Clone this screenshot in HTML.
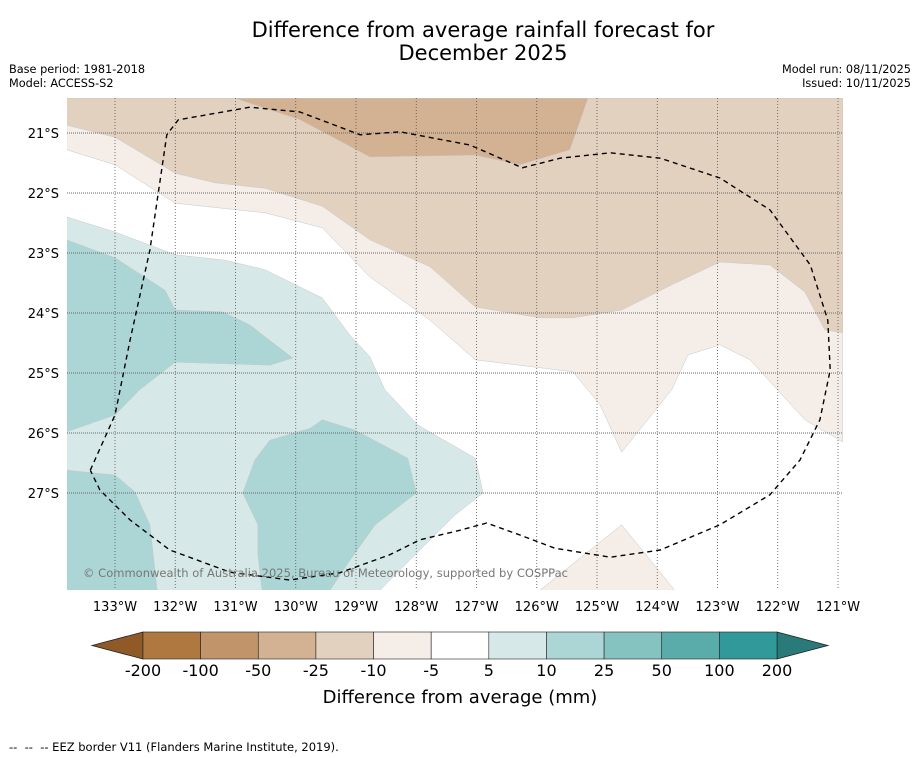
<!DOCTYPE html>
<html><head><meta charset="utf-8"><style>
html,body{margin:0;padding:0;background:#fff;}
body{width:919px;height:758px;position:relative;overflow:hidden;font-family:"DejaVu Sans","Liberation Sans",sans-serif;}
.t{position:absolute;color:#000;}
</style></head><body>
<div class="t" style="left:0;width:966px;top:19px;text-align:center;font-size:21px;line-height:23px;">Difference from average rainfall forecast for<br>December 2025</div>
<div class="t" style="left:9px;top:63px;font-size:11.3px;line-height:14px;">Base period: 1981-2018<br>Model: ACCESS-S2</div>
<div class="t" style="right:8px;top:63px;font-size:11.3px;line-height:14px;text-align:right;">Model run: 08/11/2025<br>Issued: 10/11/2025</div>
<div class="t" style="left:9px;top:740px;font-size:11.5px;white-space:pre;">--  --  -- EEZ border V11 (Flanders Marine Institute, 2019).</div>
<svg id="map" width="919" height="758" style="position:absolute;left:0;top:0"></svg>
<script>
const lonTicks=[-133,-132,-131,-130,-129,-128,-127,-126,-125,-124,-123,-122,-121];
const latTicks=[-21,-22,-23,-24,-25,-26,-27];
const cbTicks=["-200","-100","-50","-25","-10","-5","5","10","25","50","100","200"];
const cbColors=["#ae7840","#c19469","#d3b193","#e3d1c0","#f4ede8","#ffffff","#d6e9e8","#acd5d5","#85c3c1","#5aacab","#31999a"];
const brownLight=[[-133.8,-20.42],[-120.92,-20.42],[-120.92,-26.15],[-121.55,-25.78],[-122.46,-24.78],[-122.96,-24.53],[-123.49,-24.7],[-123.76,-25.28],[-124.59,-26.32],[-124.95,-25.53],[-125.4,-24.98],[-127.02,-24.78],[-127.77,-24.12],[-128.77,-23.4],[-129.56,-22.58],[-130.51,-22.33],[-132,-22.17],[-133,-21.53],[-133.8,-21.28]];
const brownLight2=[[-125.95,-28.62],[-124.59,-27.53],[-123.71,-28.62]];
const tan=[[-133.8,-20.42],[-120.92,-20.42],[-120.92,-24.33],[-121.22,-24.28],[-121.55,-23.65],[-122.13,-23.2],[-122.96,-23.15],[-123.76,-23.53],[-124.59,-23.95],[-125.4,-24.08],[-125.95,-24.08],[-127.02,-23.9],[-127.77,-23.23],[-128.77,-22.78],[-129.56,-22.22],[-130.51,-21.92],[-131.34,-21.83],[-132,-21.67],[-133,-21.07],[-133.8,-20.87]];
const darkTan=[[-131.01,-20.42],[-129.93,-20.78],[-128.77,-21.4],[-127.02,-21.37],[-126.28,-21.53],[-125.45,-21.28],[-125.15,-20.42]];
const tealLight=[[-133.8,-22.4],[-133,-22.65],[-132,-23.03],[-131.17,-23.12],[-130.51,-23.28],[-129.56,-23.75],[-129.1,-24.37],[-128.77,-24.73],[-128.52,-25.28],[-127.97,-25.87],[-127.02,-26.42],[-126.89,-27],[-127.36,-27.37],[-127.94,-27.95],[-128.27,-28.28],[-128.6,-28.62],[-133.8,-28.62]];
const tealA=[[-133.8,-22.78],[-133,-23.08],[-132.17,-23.62],[-132,-23.95],[-131.22,-23.98],[-130.76,-24.2],[-130.05,-24.75],[-130.43,-24.87],[-132,-24.82],[-132.59,-25.28],[-133,-25.7],[-133.8,-25.98]];
const tealB=[[-133.8,-26.62],[-133,-26.7],[-132.67,-26.98],[-132.42,-27.53],[-132.3,-28.62],[-133.8,-28.62]];
const tealC=[[-129.56,-25.78],[-129.02,-25.95],[-128.14,-26.42],[-128,-27],[-128.68,-27.53],[-129.1,-28.12],[-129.43,-28.62],[-130.56,-28.62],[-130.63,-28.03],[-130.63,-27.53],[-130.88,-27],[-130.68,-26.45],[-130.43,-26.12],[-129.76,-25.92]];
const eez=[[-133.41,-26.62],[-133,-25.7],[-132.75,-24.45],[-132.42,-22.95],[-132.14,-21.03],[-131.95,-20.78],[-130.76,-20.57],[-129.93,-20.65],[-128.93,-21.03],[-128.27,-20.98],[-127.11,-21.2],[-126.24,-21.58],[-125.61,-21.42],[-124.78,-21.33],[-123.95,-21.42],[-122.96,-21.75],[-122.13,-22.28],[-121.46,-23.2],[-121.17,-24.12],[-121.13,-24.95],[-121.3,-25.78],[-121.63,-26.45],[-122.13,-27.03],[-122.96,-27.53],[-123.95,-27.95],[-124.78,-28.07],[-125.7,-27.92],[-126.28,-27.7],[-126.83,-27.5],[-127.27,-27.62],[-127.94,-27.78],[-128.44,-28.03],[-129.27,-28.33],[-130.1,-28.45],[-131.09,-28.32],[-132.09,-27.95],[-132.75,-27.45],[-133.25,-26.95],[-133.41,-26.62]];

const NS="http://www.w3.org/2000/svg";
const svg=document.getElementById('map');
const X0=67,X1=843,Y0=98,Y1=590;
function xOf(lon){return 115+(lon+133)*60.25;}
function yOf(lat){return 133+(-21-lat)*60;}
function mk(tag,attrs,parent){const e=document.createElementNS(NS,tag);for(const k in attrs)e.setAttribute(k,attrs[k]);(parent||svg).appendChild(e);return e;}
const defs=mk('defs',{});
const cp=mk('clipPath',{id:'clip'},defs);
mk('rect',{x:X0,y:Y0,width:X1-X0,height:Y1-Y0},cp);
const g=mk('g',{'clip-path':'url(#clip)'});
function pts(a){return a.map(p=>xOf(p[0]).toFixed(1)+','+yOf(p[1]).toFixed(1)).join(' ');}
const layers=[[brownLight,'#f4ede8','contour-minus5-minus10'],[brownLight2,'#f4ede8','contour-minus5-minus10-south'],[tan,'#e3d1c0','contour-minus10-minus25'],[darkTan,'#d3b193','contour-minus25-minus50'],[tealLight,'#d6e9e8','contour-5-10'],[tealA,'#acd5d5','contour-10-25-west'],[tealB,'#acd5d5','contour-10-25-southwest'],[tealC,'#acd5d5','contour-10-25-central']];
for(const L of layers){
  const p=mk('polygon',{points:pts(L[0]),fill:L[1],stroke:'#c8c8c8','stroke-width':0.5},g);
  
  
}
for(const lon of lonTicks){
  const x=xOf(lon);
  const l=mk('line',{x1:x,x2:x,y1:Y0,y2:Y1,stroke:'#555','stroke-width':0.8,'stroke-dasharray':'1,2'},g);
  
  
  const t=mk('text',{x:x,y:611,'text-anchor':'middle','font-size':13,'font-family':'DejaVu Sans, Liberation Sans, sans-serif'});
  t.textContent=Math.abs(lon)+'°W';
  
  
}
for(const lat of latTicks){
  const y=yOf(lat);
  const l=mk('line',{x1:X0,x2:X1,y1:y,y2:y,stroke:'#666','stroke-width':0.9,'stroke-dasharray':'1,1'},g);
  
  
  const t=mk('text',{x:59,y:y+5,'text-anchor':'end','font-size':13,'font-family':'DejaVu Sans, Liberation Sans, sans-serif'});
  t.textContent=Math.abs(lat)+'°S';
  
  
}
const e=mk('polyline',{points:pts(eez),fill:'none',stroke:'#000','stroke-width':1.4,'stroke-dasharray':'5,4','stroke-linejoin':'round'},g);


const cr=mk('text',{x:83,y:577,'font-size':11.5,fill:'#777','font-family':'DejaVu Sans, Liberation Sans, sans-serif',textLength:485});
cr.textContent='© Commonwealth of Australia 2025, Bureau of Meteorology, supported by COSPPac';


const cbX0=143,cbX1=777,cbY=632,cbH=27;
const bw=(cbX1-cbX0)/cbColors.length;
const lt=mk('polygon',{points:`92,${cbY+cbH/2} ${cbX0},${cbY} ${cbX0},${cbY+cbH}`,fill:'#8f5a28',stroke:'#222','stroke-width':0.8});


const rt=mk('polygon',{points:`828,${cbY+cbH/2} ${cbX1},${cbY} ${cbX1},${cbY+cbH}`,fill:'#2a7a7a',stroke:'#222','stroke-width':0.8});


cbColors.forEach((c,i)=>{
  const r=mk('rect',{x:cbX0+i*bw,y:cbY,width:bw,height:cbH,fill:c,stroke:'#222','stroke-width':0.6});
  
  
});
cbTicks.forEach((s,i)=>{
  const t=mk('text',{x:cbX0+i*bw,y:676,'text-anchor':'middle','font-size':16,'font-family':'DejaVu Sans, Liberation Sans, sans-serif'});
  t.textContent=s;
  
  
});
const ct=mk('text',{x:460,y:703,'text-anchor':'middle','font-size':18,'font-family':'DejaVu Sans, Liberation Sans, sans-serif'});
ct.textContent='Difference from average (mm)';


</script>
</body></html>
